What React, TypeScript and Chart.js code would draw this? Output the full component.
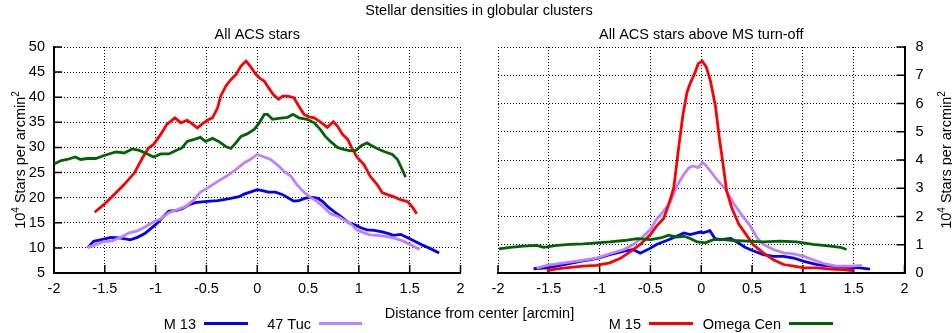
import React, { useEffect, useRef } from "react";
import { Chart, registerables } from "chart.js";
Chart.register(...registerables);

// ---------- data ----------
const mainTitle = "Stellar densities in globular clusters";
const leftTitle = "All ACS stars";
const rightTitle = "All ACS stars above MS turn-off";
const xAxisTitle = "Distance from center [arcmin]";
const seriesNames = ["M 13", "47 Tuc", "M 15", "Omega Cen"];

const xTickValues = [-2, -1.5, -1, -0.5, 0, 0.5, 1, 1.5, 2];
const xTickLabels = ["-2", "-1.5", "-1", "-0.5", "0", "0.5", "1", "1.5", "2"];
const leftYTickValues = [5, 10, 15, 20, 25, 30, 35, 40, 45, 50];
const rightYTickValues = [0, 1, 2, 3, 4, 5, 6, 7, 8];

// Left panel: all ACS stars
const m13AllX = [-1.67, -1.61, -1.52, -1.44, -1.36, -1.30, -1.25, -1.18, -1.11, -1.05,
  -0.98, -0.92, -0.87, -0.80, -0.74, -0.67, -0.61, -0.52, -0.46, -0.39,
  -0.33, -0.25, -0.18, -0.13, -0.07, 0.00, 0.05, 0.11, 0.18, 0.25,
  0.31, 0.36, 0.41, 0.46, 0.52, 0.59, 0.64, 0.70, 0.77, 0.84,
  0.90, 0.97, 1.02, 1.08, 1.15, 1.23, 1.30, 1.34, 1.41, 1.48,
  1.54, 1.62, 1.70, 1.79];
const m13AllY = [10.0, 11.3, 11.7, 12.1, 12.0, 11.8, 11.6, 12.1, 12.8, 13.8,
  15.0, 16.3, 17.3, 17.4, 17.8, 18.6, 19.0, 19.2, 19.3, 19.4,
  19.6, 19.9, 20.2, 20.7, 21.1, 21.6, 21.4, 21.1, 21.1, 20.6,
  19.9, 19.3, 19.4, 19.8, 20.1, 19.9, 19.3, 18.1, 17.0, 16.0,
  15.0, 14.5, 14.0, 13.6, 13.5, 13.2, 12.8, 12.5, 12.7, 12.0,
  11.4, 10.6, 9.9, 9.0];

const tuc47AllX = [-1.67, -1.61, -1.52, -1.43, -1.34, -1.26, -1.18, -1.10, -1.02, -0.95,
  -0.87, -0.79, -0.70, -0.62, -0.56, -0.49, -0.43, -0.36, -0.30, -0.21,
  -0.13, -0.07, 0.00, 0.07, 0.13, 0.20, 0.26, 0.33, 0.39, 0.46,
  0.52, 0.59, 0.66, 0.72, 0.79, 0.85, 0.92, 0.98, 1.05, 1.11,
  1.18, 1.26, 1.34, 1.43, 1.51, 1.60];
const tuc47AllY = [10.1, 10.5, 11.2, 11.4, 12.1, 13.0, 13.4, 14.2, 15.2, 15.8,
  17.0, 17.6, 18.3, 19.6, 21.1, 21.9, 22.7, 23.6, 24.3, 25.6,
  26.9, 27.6, 28.6, 28.1, 27.6, 26.5, 25.3, 24.3, 22.6, 21.1,
  20.1, 19.2, 18.0, 16.8, 16.3, 15.6, 14.8, 13.6, 13.0, 12.6,
  12.5, 12.3, 12.0, 11.4, 10.6, 9.7];

const m15AllX = [-1.60, -1.51, -1.41, -1.31, -1.21, -1.13, -1.07, -1.02, -0.95, -0.89,
  -0.81, -0.75, -0.69, -0.64, -0.59, -0.54, -0.49, -0.44, -0.39, -0.36,
  -0.31, -0.26, -0.21, -0.16, -0.11, -0.07, -0.02, 0.03, 0.07, 0.11,
  0.16, 0.21, 0.25, 0.30, 0.36, 0.41, 0.46, 0.51, 0.56, 0.62,
  0.69, 0.75, 0.79, 0.84, 0.89, 0.93, 0.98, 1.05, 1.11, 1.18,
  1.23, 1.28, 1.34, 1.41, 1.48, 1.52, 1.57];
const m15AllY = [17.1, 18.6, 20.6, 22.6, 24.9, 27.9, 29.9, 30.6, 32.6, 34.6,
  35.9, 34.9, 35.4, 34.7, 33.9, 34.7, 35.4, 35.9, 37.9, 40.2,
  42.2, 43.5, 44.5, 46.2, 47.2, 46.2, 44.7, 43.7, 43.2, 41.9,
  40.5, 39.6, 40.2, 40.2, 39.9, 38.2, 36.6, 36.1, 35.9, 35.1,
  34.0, 35.1, 34.2, 32.6, 31.6, 29.9, 28.1, 26.6, 24.3, 22.6,
  21.0, 20.6, 20.2, 19.6, 19.2, 18.3, 16.8];

const omegaAllX = [-2.00, -1.93, -1.87, -1.79, -1.74, -1.67, -1.59, -1.52, -1.46, -1.39,
  -1.31, -1.23, -1.16, -1.10, -1.02, -0.95, -0.87, -0.80, -0.74, -0.69,
  -0.62, -0.56, -0.51, -0.44, -0.38, -0.31, -0.26, -0.21, -0.16, -0.10,
  -0.03, 0.02, 0.07, 0.10, 0.15, 0.21, 0.30, 0.35, 0.41, 0.49,
  0.56, 0.62, 0.67, 0.72, 0.79, 0.85, 0.92, 0.97, 1.02, 1.08,
  1.13, 1.20, 1.26, 1.33, 1.38, 1.41, 1.46];
const omegaAllY = [26.7, 27.4, 27.6, 28.1, 27.6, 27.8, 27.8, 28.3, 28.7, 29.1,
  28.9, 29.7, 29.4, 28.9, 28.1, 28.7, 28.7, 29.4, 29.9, 31.2,
  31.6, 32.0, 31.2, 31.8, 31.2, 30.2, 29.8, 30.9, 32.2, 32.7,
  33.6, 34.9, 36.6, 36.6, 35.6, 35.8, 36.0, 36.6, 35.9, 35.6,
  34.9, 33.6, 32.2, 31.2, 30.0, 29.6, 29.3, 29.4, 30.3, 30.9,
  30.3, 29.6, 29.1, 28.6, 27.6, 26.3, 24.1];

// Right panel: stars above MS turn-off
const m13ToX = [-1.65, -1.52, -1.35, -1.19, -1.03, -0.90, -0.76, -0.67, -0.60, -0.50,
  -0.44, -0.34, -0.21, -0.17, -0.11, -0.01, 0.02, 0.085, 0.135, 0.19,
  0.29, 0.35, 0.43, 0.51, 0.61, 0.71, 0.81, 0.91, 1.01, 1.14,
  1.27, 1.43, 1.56, 1.66];
const m13ToY = [0.15, 0.18, 0.30, 0.41, 0.51, 0.65, 0.77, 0.83, 0.70, 0.88,
  1.01, 1.15, 1.35, 1.42, 1.36, 1.45, 1.42, 1.50, 1.22, 1.18,
  1.22, 1.10, 0.91, 0.79, 0.65, 0.59, 0.59, 0.53, 0.41, 0.30,
  0.24, 0.20, 0.18, 0.14];

const tuc47ToX = [-1.62, -1.52, -1.35, -1.19, -1.03, -0.90, -0.76, -0.67, -0.57, -0.50,
  -0.44, -0.37, -0.30, -0.24, -0.17, -0.12, -0.08, -0.03, 0.01, 0.04,
  0.09, 0.15, 0.24, 0.32, 0.40, 0.48, 0.55, 0.61, 0.71, 0.81,
  0.91, 1.01, 1.10, 1.22, 1.33, 1.47, 1.58];
const tuc47ToY = [0.17, 0.27, 0.36, 0.44, 0.53, 0.68, 0.83, 1.01, 1.30, 1.54,
  1.90, 2.19, 2.55, 3.08, 3.50, 3.73, 3.79, 3.73, 3.91, 3.83,
  3.61, 3.32, 2.96, 2.45, 2.05, 1.68, 1.24, 1.01, 0.83, 0.71,
  0.68, 0.59, 0.47, 0.32, 0.24, 0.24, 0.27];

const m15ToX = [-1.52, -1.42, -1.29, -1.16, -1.03, -0.90, -0.80, -0.70, -0.60, -0.50,
  -0.44, -0.37, -0.32, -0.27, -0.22, -0.18, -0.14, -0.11, -0.06, -0.03,
  0.01, 0.05, 0.09, 0.14, 0.18, 0.21, 0.25, 0.30, 0.37, 0.43,
  0.51, 0.61, 0.71, 0.81, 0.91, 1.01, 1.14, 1.27, 1.40, 1.50];
const m15ToY = [0.08, 0.15, 0.20, 0.24, 0.27, 0.36, 0.51, 0.75, 1.01, 1.36,
  1.66, 1.93, 2.43, 3.02, 4.5, 5.6, 6.4, 6.7, 7.11, 7.41,
  7.50, 7.29, 6.8, 5.9, 4.72, 3.97, 2.9, 2.31, 1.72, 1.42,
  1.01, 0.71, 0.47, 0.30, 0.24, 0.18, 0.18, 0.14, 0.12, 0.08];

const omegaToX = [-1.99, -1.88, -1.75, -1.62, -1.55, -1.42, -1.29, -1.16, -1.03, -0.90,
  -0.76, -0.63, -0.50, -0.40, -0.32, -0.24, -0.17, -0.11, -0.04, 0.04,
  0.12, 0.22, 0.32, 0.45, 0.61, 0.78, 0.94, 1.10, 1.27, 1.37,
  1.43];
const omegaToY = [0.85, 0.91, 0.95, 0.98, 0.91, 0.98, 1.01, 1.03, 1.07, 1.10,
  1.15, 1.22, 1.18, 1.24, 1.34, 1.27, 1.30, 1.22, 1.10, 1.07,
  1.18, 1.18, 1.15, 1.13, 1.10, 1.13, 1.10, 1.01, 0.95, 0.91,
  0.83];

// ---------- styles ----------
const COLORS = ["#0000ff", "#c080ff", "#ff0000", "#006400"];
const FONT_FAMILY = '"Liberation Sans", Arial, Helvetica, sans-serif';
const FS = 14.5;
const W = 952;
const H = 333;

const pts = (xs: number[], ys: number[]) =>
  xs.slice(0, Math.min(xs.length, ys.length)).map((x, i) => ({ x, y: ys[i] }));

// gnuplot draws later series on top; in Chart.js a lower "order" is drawn on top
const ds = (idx: number, xs: number[], ys: number[]) => ({
  label: seriesNames[idx],
  data: pts(xs, ys),
  borderColor: COLORS[idx],
  backgroundColor: COLORS[idx],
  borderWidth: 2.8,
  pointRadius: 0,
  tension: 0,
  fill: false,
  order: 3 - idx,
});

type PanelCfg = {
  side: "left" | "right";
  subtitle: string;
  yTitleBaselineX: number;
  legend: { name: string; color: string; x1: number; x2: number }[];
  drawShared: boolean;
};

function drawYTitle(ctx: CanvasRenderingContext2D, baseX: number, cy: number) {
  const big = `${FS}px ${FONT_FAMILY}`;
  const small = `10px ${FONT_FAMILY}`;
  const parts = [
    { t: "10", f: big, dy: 0 },
    { t: "4", f: small, dy: -6 },
    { t: " Stars per arcmin", f: big, dy: 0 },
    { t: "2", f: small, dy: -6 },
  ];
  ctx.save();
  ctx.translate(baseX, cy);
  ctx.rotate(-Math.PI / 2);
  let total = 0;
  const widths = parts.map((p) => {
    ctx.font = p.f;
    const w = ctx.measureText(p.t).width;
    total += w;
    return w;
  });
  let x = -total / 2;
  ctx.textBaseline = "alphabetic";
  ctx.textAlign = "left";
  ctx.fillStyle = "#000";
  parts.forEach((p, i) => {
    ctx.font = p.f;
    ctx.fillText(p.t, x, p.dy);
    x += widths[i];
  });
  ctx.restore();
}

function makePlugin(cfg: PanelCfg) {
  return {
    id: "gnuplotDecor",
    beforeDatasetsDraw(chart: any) {
      const { ctx, chartArea } = chart;
      const { left, right, bottom } = chartArea;
      const xs = chart.scales.x;
      const ys = chart.scales.y;
      ctx.save();
      ctx.strokeStyle = "#000";
      ctx.lineWidth = 1.5;
      ctx.beginPath();
      xs.ticks.forEach((t: any) => {
        const px = xs.getPixelForValue(t.value);
        ctx.moveTo(px, bottom);
        ctx.lineTo(px, bottom - 8);
      });
      ys.ticks.forEach((t: any) => {
        const py = ys.getPixelForValue(t.value);
        if (cfg.side === "left") {
          ctx.moveTo(left, py);
          ctx.lineTo(left + 8, py);
        } else {
          ctx.moveTo(right, py);
          ctx.lineTo(right - 8, py);
        }
      });
      ctx.stroke();
      ctx.restore();
    },
    afterDraw(chart: any) {
      const { ctx, chartArea } = chart;
      ctx.save();
      ctx.fillStyle = "#000";
      ctx.font = `${FS}px ${FONT_FAMILY}`;
      ctx.textBaseline = "alphabetic";
      ctx.textAlign = "center";
      if (cfg.drawShared) {
        ctx.fillText(mainTitle, 479, 14.5);
        ctx.fillText(xAxisTitle, 479.5, 317.5);
      }
      ctx.fillText(cfg.subtitle, (chartArea.left + chartArea.right) / 2, 39);
      cfg.legend.forEach((l) => {
        ctx.textAlign = "right";
        ctx.fillStyle = "#000";
        ctx.fillText(l.name, l.x1 - 8, 328.5);
        ctx.strokeStyle = l.color;
        ctx.lineWidth = 3;
        ctx.beginPath();
        ctx.moveTo(l.x1, 323.5);
        ctx.lineTo(l.x2, 323.5);
        ctx.stroke();
      });
      ctx.restore();
      drawYTitle(ctx, cfg.yTitleBaselineX, (chartArea.top + chartArea.bottom) / 2);
    },
  };
}

function scaleX() {
  return {
    type: "linear" as const,
    min: -2,
    max: 2,
    afterBuildTicks: (s: any) => {
      s.ticks = xTickValues.map((v) => ({ value: v }));
    },
    afterFit: (s: any) => {
      s.height = 20;
    },
    ticks: {
      color: "#000",
      font: { family: FONT_FAMILY, size: FS },
      padding: 7,
      maxRotation: 0,
      autoSkip: false,
      callback: (v: number) => {
        const i = xTickValues.indexOf(v);
        return i >= 0 ? xTickLabels[i] : String(v);
      },
    },
    grid: { color: "#000", lineWidth: 1, drawTicks: false },
    border: { display: true, color: "#000", width: 2, dash: [1, 2] },
  };
}

function scaleY(min: number, max: number, values: number[], pos: "left" | "right", width: number, pad: number) {
  return {
    type: "linear" as const,
    position: pos,
    min,
    max,
    afterBuildTicks: (s: any) => {
      s.ticks = values.map((v) => ({ value: v }));
    },
    afterFit: (s: any) => {
      s.width = width;
    },
    ticks: {
      color: "#000",
      font: { family: FONT_FAMILY, size: FS },
      padding: pad,
      autoSkip: false,
      callback: (v: number) => String(v),
    },
    grid: { color: "#000", lineWidth: 1, drawTicks: false },
    border: { display: true, color: "#000", width: 2, dash: [1, 2] },
  };
}

export default function App() {
  const leftRef = useRef<HTMLCanvasElement | null>(null);
  const rightRef = useRef<HTMLCanvasElement | null>(null);

  useEffect(() => {
    if (!leftRef.current || !rightRef.current) return;

    const left = new Chart(leftRef.current, {
      type: "line",
      data: {
        datasets: [
          ds(0, m13AllX, m13AllY),
          ds(1, tuc47AllX, tuc47AllY),
          ds(2, m15AllX, m15AllY),
          ds(3, omegaAllX, omegaAllY),
        ],
      },
      options: {
        animation: false,
        responsive: false,
        devicePixelRatio: 1,
        events: [],
        layout: { padding: { left: 14, right: 491.5, top: 47, bottom: 40 } },
        plugins: { legend: { display: false }, title: { display: false }, tooltip: { enabled: false } },
        scales: {
          x: scaleX(),
          y: scaleY(5, 50, leftYTickValues, "left", 40, 9),
        },
      } as any,
      plugins: [
        makePlugin({
          side: "left",
          subtitle: leftTitle,
          yTitleBaselineX: 25,
          legend: [
            { name: seriesNames[0], color: COLORS[0], x1: 204, x2: 248 },
            { name: seriesNames[1], color: COLORS[1], x1: 319, x2: 362 },
          ],
          drawShared: true,
        }),
      ],
    });

    const right = new Chart(rightRef.current, {
      type: "line",
      data: {
        datasets: [
          ds(0, m13ToX, m13ToY),
          ds(1, tuc47ToX, tuc47ToY),
          ds(2, m15ToX, m15ToY),
          ds(3, omegaToX, omegaToY),
        ],
      },
      options: {
        animation: false,
        responsive: false,
        devicePixelRatio: 1,
        events: [],
        layout: { padding: { left: 498, right: 17.5, top: 47, bottom: 40 } },
        plugins: { legend: { display: false }, title: { display: false }, tooltip: { enabled: false } },
        scales: {
          x: scaleX(),
          y: scaleY(0, 8, rightYTickValues, "right", 30, 11),
        },
      } as any,
      plugins: [
        makePlugin({
          side: "right",
          subtitle: rightTitle,
          yTitleBaselineX: 951,
          legend: [
            { name: seriesNames[2], color: COLORS[2], x1: 649, x2: 693 },
            { name: seriesNames[3], color: COLORS[3], x1: 789, x2: 833 },
          ],
          drawShared: false,
        }),
      ],
    });

    return () => {
      left.destroy();
      right.destroy();
    };
  }, []);

  const cs: React.CSSProperties = { position: "absolute", left: 0, top: 0, width: W, height: H };
  return (
    <div style={{ position: "absolute", left: 0, top: 0, width: W, height: H, background: "#fff", overflow: "hidden" }}>
      <canvas ref={leftRef} width={W} height={H} style={cs} />
      <canvas ref={rightRef} width={W} height={H} style={cs} />
    </div>
  );
}
